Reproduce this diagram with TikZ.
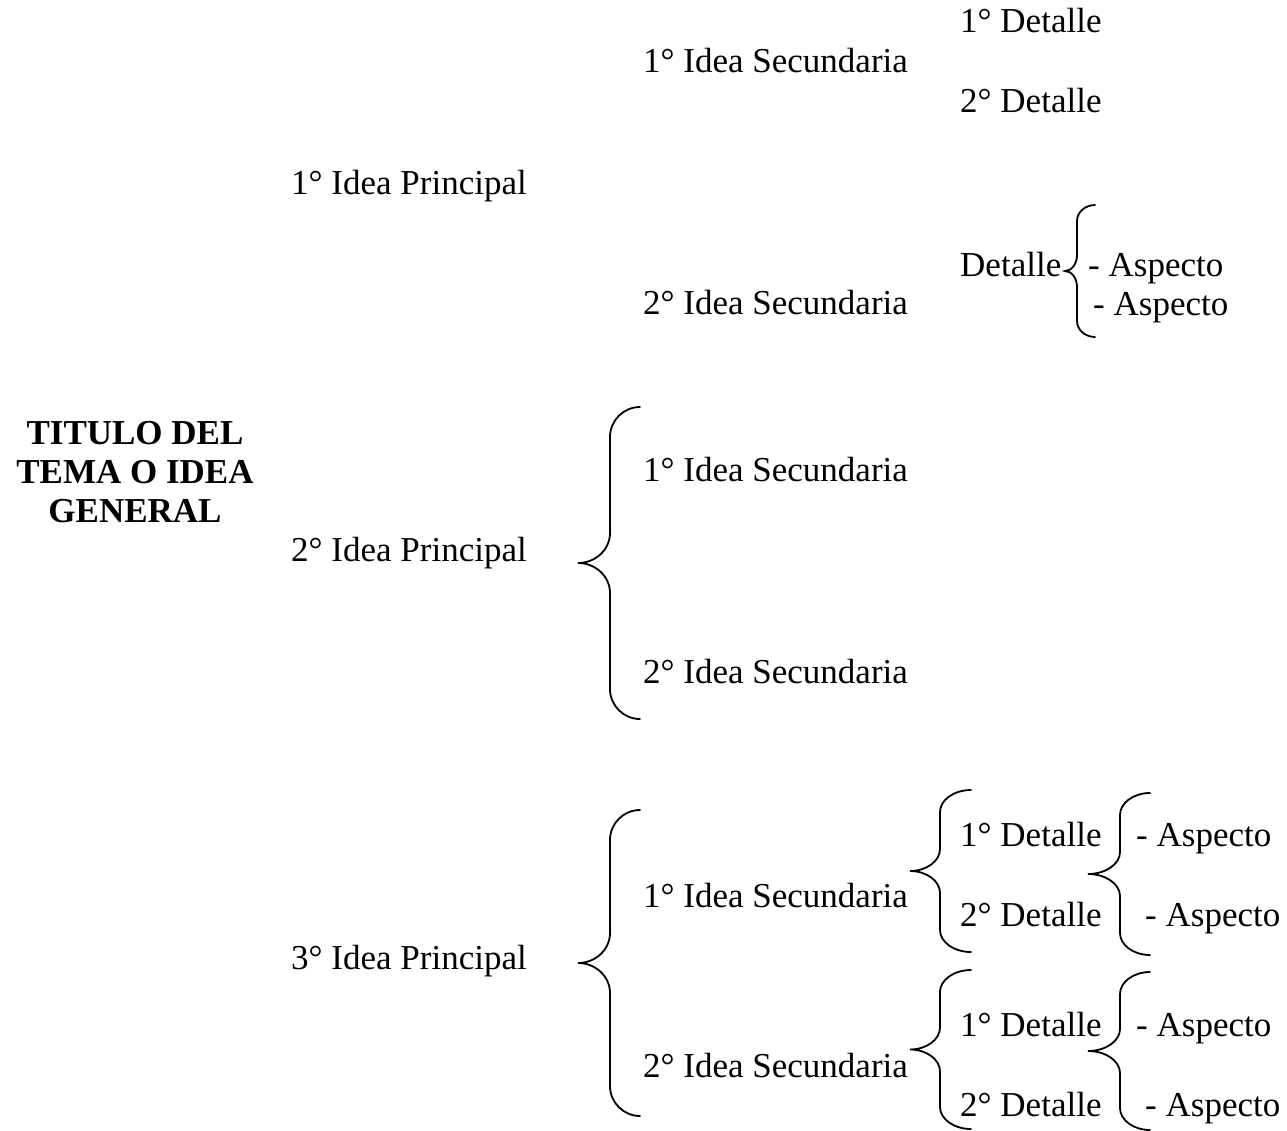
\documentclass[tikz,border=0pt]{standalone}
\usepackage{fontspec}
\setmainfont{Liberation Serif}

% llave: x de la linea, arriba, abajo, ancho punta-extremo, ancho pico, radio
\newcommand{\llave}[6]{%
	\draw [llavelinea] (#1+#4,#2) .. controls (#1+0.45*#4,#2) and (#1,#2+0.45*#6) .. (#1,#2+#6)
		-- (#1,{(#2+#3)/2-#6}) .. controls (#1,{(#2+#3)/2-0.45*#6}) and (#1-0.45*#5,{(#2+#3)/2}) .. (#1-#5,{(#2+#3)/2})
		.. controls (#1-0.45*#5,{(#2+#3)/2}) and (#1,{(#2+#3)/2+0.45*#6}) .. (#1,{(#2+#3)/2+#6})
		-- (#1,#3-#6) .. controls (#1,#3-0.45*#6) and (#1+0.45*#4,#3) .. (#1+#4,#3);}

\begin{document}
\begin{tikzpicture}[x=1pt,y=-1pt]
		\tikzstyle{every node}=[inner sep=0pt, anchor=base west, font=\fontsize{35}{39}\selectfont];
		\tikzstyle{llavelinea}=[line width=1.8pt, line cap=round];
		\useasboundingbox (0,0) rectangle (1287,1131);
		\node [anchor=center, align=center, font=\fontsize{35}{39}\selectfont\bfseries] (tema) at (135,472) {TITULO DEL\\TEMA O IDEA\\GENERAL};
		\node (ip1) at (291,195) {1° Idea Principal};
		\node (ip2) at (291,561) {2° Idea Principal};
		\node (ip3) at (291,969) {3° Idea Principal};
		\node (is11) at (643,73) {1° Idea Secundaria};
		\node (is12) at (643,315) {2° Idea Secundaria};
		\node (is21) at (643,481) {1° Idea Secundaria};
		\node (is22) at (643,683) {2° Idea Secundaria};
		\node (is31) at (643,907) {1° Idea Secundaria};
		\node (is32) at (643,1077) {2° Idea Secundaria};
		\node (d111) at (960,33) {1° Detalle};
		\node (d112) at (960,113) {2° Detalle};
		\node (d12) at (960,277) {Detalle};
		\node (a121) at (1088,277) {- Aspecto};
		\node (a122) at (1093,316) {- Aspecto};
		\node (d311) at (960,846) {1° Detalle};
		\node (d312) at (960,926) {2° Detalle};
		\node (d321) at (960,1036) {1° Detalle};
		\node (d322) at (960,1116) {2° Detalle};
		\node (a311) at (1136,846) {- Aspecto};
		\node (a312) at (1145,926) {- Aspecto};
		\node (a321) at (1136,1036) {- Aspecto};
		\node (a322) at (1145,1116) {- Aspecto};
		% llaves
		\llave{1077}{205}{337}{18}{12}{16}
		\llave{610}{407}{719}{30}{32}{30}
		\llave{610}{810}{1116}{30}{32}{30}
		\llave{940}{790}{952}{31}{30}{22}
		\llave{1120}{793}{955}{30}{32}{22}
		\llave{940}{970}{1129}{31}{30}{22}
		\llave{1120}{972}{1130}{30}{32}{22}
	\end{tikzpicture}
\end{document}
